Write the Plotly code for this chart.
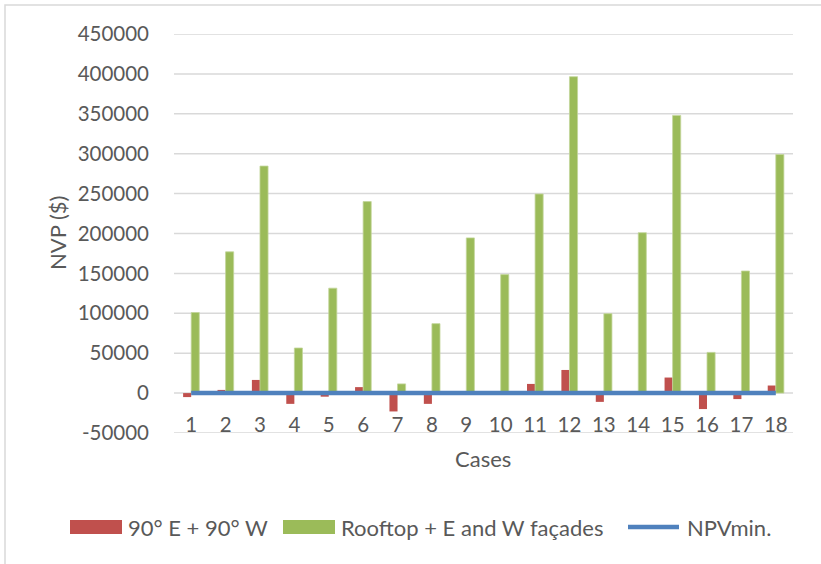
import plotly.graph_objects as go

cases = [str(i) for i in range(1, 19)]
east_west = [-5000, 4000, 16500, -13500, -4500, 7500, -23000, -13500, 1500,
             1000, 11500, 29000, -11000, 1500, 19500, -20000, -7500, 9500]
rooftop = [101000, 177000, 284500, 56500, 131500, 240000, 11500, 87000, 194500,
           148500, 249500, 396500, 99500, 201000, 348000, 51000, 153000, 299000]
npv_min = [0] * 18
y_ticks = [-50000, 0, 50000, 100000, 150000, 200000, 250000, 300000, 350000, 400000, 450000]

RED = "#C0504D"
GREEN = "#9BBB59"
BLUE = "#4F81BD"
TXT = "#595959"
GRID = "#D9D9D9"
FONT = "Lato"

W, H = 821, 564
OFF = 0  # body margin removed by post_script
# plot area in screenshot coordinates
PX0, PX1, PY0, PY1 = 174, 793, 34, 433
L, T = PX0 - OFF, PY0 - OFF
R, B = W - (PX1 - OFF), H - (PY1 - OFF)
pw, ph = PX1 - PX0, PY1 - PY0


def px(x):
    return (x - PX0) / pw


def py(y):
    return (PY1 - y) / ph


fig = go.Figure()
fig.add_trace(go.Bar(x=cases, y=east_west, name="90° E + 90° W",
                     marker=dict(color=RED, line=dict(width=0))))
fig.add_trace(go.Bar(x=cases, y=rooftop, name="Rooftop + E and W façades",
                     marker=dict(color=GREEN, line=dict(width=0.8, color="#C3D69B"))))
fig.add_trace(go.Scatter(x=cases, y=npv_min, name="NPVmin.", mode="lines",
                         line=dict(color=BLUE, width=4.5)))

shapes = [
    dict(type="rect", xref="paper", yref="paper", x0=px(5), x1=px(860), y0=py(5), y1=py(620),
         line=dict(color=GRID, width=1.5), fillcolor="rgba(0,0,0,0)", layer="below"),
    dict(type="rect", xref="paper", yref="paper", x0=px(70), x1=px(122), y0=py(534), y1=py(520),
         line=dict(width=0), fillcolor=RED),
    dict(type="rect", xref="paper", yref="paper", x0=px(283), x1=px(335), y0=py(534), y1=py(520),
         line=dict(width=0), fillcolor=GREEN),
    dict(type="line", xref="paper", yref="paper", x0=px(628), x1=px(679), y0=py(527), y1=py(527),
         line=dict(width=4.5, color=BLUE)),
]
for v in y_ticks:
    shapes.append(dict(type="line", xref="paper", yref="y", x0=0, x1=1, y0=v, y1=v,
                       line=dict(color=GRID, width=1.5), layer="below"))

big = dict(family=FONT, size=22, color=TXT)
annotations = [
    dict(text="NVP ($)", xref="paper", yref="paper", x=px(57), y=py(233), textangle=-90,
         showarrow=False, xanchor="center", yanchor="middle", font=big),
    dict(text="Cases", xref="paper", yref="paper", x=px(483), y=py(458),
         showarrow=False, xanchor="center", yanchor="middle", font=big),
    dict(text="90° E + 90° W", xref="paper", yref="paper", x=px(126), y=py(527),
         showarrow=False, xanchor="left", yanchor="middle", font=big),
    dict(text="Rooftop + E and W façades", xref="paper", yref="paper", x=px(339), y=py(527),
         showarrow=False, xanchor="left", yanchor="middle", font=big),
    dict(text="NPVmin.", xref="paper", yref="paper", x=px(685), y=py(527),
         showarrow=False, xanchor="left", yanchor="middle", font=big),
]

tick_font = dict(family=FONT, size=20.5, color=TXT)
fig.update_layout(
    width=W, height=H,
    margin=dict(l=L, r=R, t=T, b=B, pad=0, autoexpand=False),
    paper_bgcolor="white", plot_bgcolor="rgba(0,0,0,0)",
    barmode="group", bargap=0.53, bargroupgap=0,
    showlegend=False, hovermode=False,
    font=dict(family=FONT, size=20, color=TXT),
    shapes=shapes, annotations=annotations,
    xaxis=dict(type="category", showgrid=False, zeroline=False, showline=False,
               ticks="", ticklabelstandoff=-23, tickfont=tick_font, automargin=False),
    yaxis=dict(range=[-50000, 450000], tickvals=y_ticks, ticktext=[str(v) for v in y_ticks],
               showgrid=False, zeroline=False, showline=False, ticks="",
               ticklabelstandoff=24, tickfont=tick_font, automargin=False),
)

fig.write_html("out.html", config={"displayModeBar": False},
               post_script="document.body.style.margin='0';")
